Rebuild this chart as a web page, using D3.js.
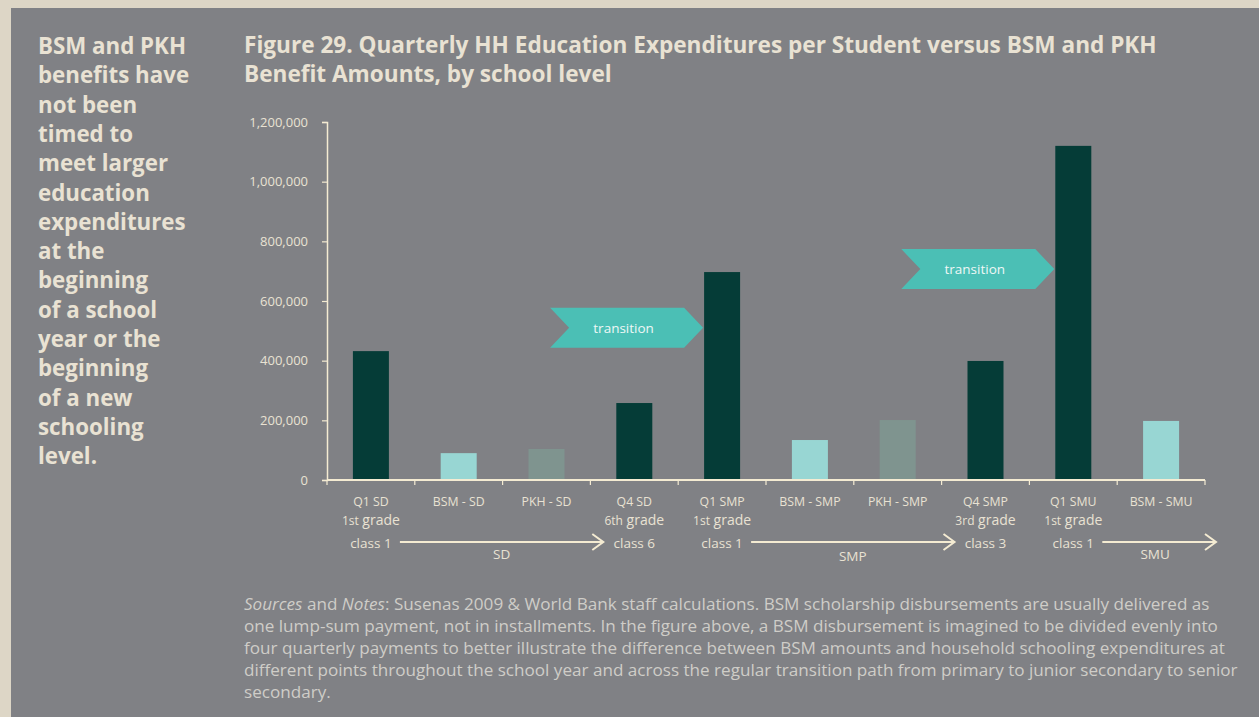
<!DOCTYPE html>
<html>
<head>
<meta charset="utf-8">
<script src="https://cdn.jsdelivr.net/npm/d3@7"></script>
<style>
  html, body { margin: 0; padding: 0; background: #ddd6c6; }
  svg { display: block; font-family: "Open Sans", "Noto Sans", sans-serif; }
</style>
</head>
<body>
<svg width="1259" height="717"></svg>
<script>
// chart data
const categories = ["Q1 SD", "BSM - SD", "PKH - SD", "Q4 SD", "Q1 SMP", "BSM - SMP", "PKH - SMP", "Q4 SMP", "Q1 SMU", "BSM - SMU"];
const values = [432000, 90000, 104000, 258000, 697000, 134000, 201000, 399000, 1120000, 198000];
const kinds = ["hh", "bsm", "pkh", "hh", "hh", "bsm", "pkh", "hh", "hh", "bsm"];
const grades = [["1st", "grade"], null, null, ["6th", "grade"], ["1st", "grade"], null, null, ["3rd", "grade"], ["1st", "grade"], null];
const classes = ["class 1", "", "", "class 6", "class 1", "", "", "class 3", "class 1", ""];
const yTicks = [0, 200000, 400000, 600000, 800000, 1000000, 1200000];
const levels = [
    { name: "SD", from: 0, to: 3 },
    { name: "SMP", from: 4, to: 7 },
    { name: "SMU", from: 8, to: null }
];
const transitions = [
    { at: "Q1 SMP", level: 510000 },
    { at: "Q1 SMU", level: 707000 }
];

const sidebar = ["BSM and PKH", "benefits have", "not been", "timed to", "meet larger",
    "education", "expenditures", "at the", "beginning", "of a school", "year or the",
    "beginning", "of a new", "schooling", "level."];
const title = ["Figure 29. Quarterly HH Education Expenditures per Student versus BSM and PKH",
    "Benefit Amounts, by school level"];
const notes = [
    [["Sources", true], [" and ", false], ["Notes", true], [": Susenas 2009 & World Bank staff calculations. BSM scholarship disbursements are usually delivered as", false]],
    [["one lump-sum payment, not in installments. In the figure above, a BSM disbursement is imagined to be divided evenly into", false]],
    [["four quarterly payments to better illustrate the difference between BSM amounts and household schooling expenditures at", false]],
    [["different points throughout the school year and across the regular transition path from primary to junior secondary to senior", false]],
    [["secondary.", false]]
];

const colors = { hh: "#053c37", bsm: "#98d6d3", pkh: "#7f948f" };
const cream = "#e9e2d3";
const axisCol = "#f4ebd2";

const svg = d3.select("svg");

// panel
svg.append("rect")
    .attr("x", 11).attr("y", 8)
    .attr("width", 1259 - 11).attr("height", 717 - 8)
    .attr("fill", "#808185");

// sidebar text
svg.append("g")
    .selectAll("text")
    .data(sidebar)
    .enter().append("text")
    .attr("x", 38)
    .attr("y", (d, i) => 54 + i * 29.3)
    .attr("fill", cream)
    .attr("font-size", 22.3)
    .attr("font-weight", 700)
    .text(d => d);

// title
svg.append("g")
    .selectAll("text")
    .data(title)
    .enter().append("text")
    .attr("x", 244)
    .attr("y", (d, i) => 53 + i * 29)
    .attr("fill", cream)
    .attr("font-size", 22.6)
    .attr("font-weight", 700)
    .text(d => d);

// scales
const x = d3.scaleBand()
    .domain(categories)
    .range([327, 1205])
    .paddingInner(0.59)
    .paddingOuter(0.295);

const y = d3.scaleLinear()
    .domain([0, 1200000])
    .range([480, 122]);

const center = i => x(categories[i]) + x.bandwidth() / 2;

// bars
svg.append("g")
    .selectAll("rect")
    .data(categories)
    .enter().append("rect")
    .attr("x", d => x(d))
    .attr("y", (d, i) => y(values[i]))
    .attr("width", x.bandwidth())
    .attr("height", (d, i) => y(0) - y(values[i]))
    .attr("fill", (d, i) => colors[kinds[i]]);

// y axis
const yAxis = svg.append("g")
    .attr("transform", "translate(327,0)")
    .call(d3.axisLeft(y).tickValues(yTicks).tickFormat(d3.format(",")).tickSize(5).tickPadding(14));
yAxis.select(".domain").attr("stroke", axisCol).attr("stroke-width", 1.5);
yAxis.selectAll(".tick line").attr("stroke", axisCol).attr("stroke-width", 1.2);
yAxis.selectAll(".tick text")
    .attr("fill", cream)
    .attr("font-size", 13)
    .attr("font-family", "Open Sans, sans-serif");

// x axis: ticks at band edges
const step = x.step();
const edges = d3.range(categories.length + 1).map(i => 327 + i * step);
const xg = svg.append("g");
xg.append("line")
    .attr("x1", 327).attr("x2", 1205)
    .attr("y1", y(0)).attr("y2", y(0))
    .attr("stroke", axisCol).attr("stroke-width", 1.8);
xg.selectAll("line.tk")
    .data(edges)
    .enter().append("line")
    .attr("class", "tk")
    .attr("x1", d => d).attr("x2", d => d)
    .attr("y1", y(0)).attr("y2", y(0) + 5)
    .attr("stroke", axisCol).attr("stroke-width", 1.2);

// category labels
const lab = svg.append("g")
    .attr("fill", cream)
    .attr("text-anchor", "middle");

lab.selectAll("text.cat")
    .data(categories)
    .enter().append("text")
    .attr("class", "cat")
    .attr("x", (d, i) => center(i))
    .attr("y", 506)
    .attr("font-size", 12.3)
    .text(d => d);

const gradeText = lab.selectAll("text.grade")
    .data(grades.map((g, i) => ({ g, i })).filter(d => d.g))
    .enter().append("text")
    .attr("class", "grade")
    .attr("x", d => center(d.i))
    .attr("y", 525);
gradeText.append("tspan").attr("font-size", 12).text(d => d.g[0]);
gradeText.append("tspan").attr("font-size", 14).text(d => " " + d.g[1]);

lab.selectAll("text.cls")
    .data(classes.map((c, i) => ({ c, i })).filter(d => d.c))
    .enter().append("text")
    .attr("class", "cls")
    .attr("x", d => center(d.i))
    .attr("y", 548)
    .attr("font-size", 13.5)
    .text(d => d.c);

// school level arrows
const arrows = svg.append("g");
levels.forEach(lv => {
    const x1 = center(lv.from) + 29;
    const x2 = lv.to === null ? 1216 : center(lv.to) - 31;
    const ay = 542;
    arrows.append("line")
        .attr("x1", x1).attr("x2", x2)
        .attr("y1", ay).attr("y2", ay)
        .attr("stroke", axisCol).attr("stroke-width", 2);
    arrows.append("path")
        .attr("d", `M${x2 - 11},${ay - 8}L${x2},${ay}L${x2 - 11},${ay + 8}`)
        .attr("fill", "none")
        .attr("stroke", axisCol).attr("stroke-width", 2);
    arrows.append("text")
        .attr("x", (x1 + x2) / 2 + (lv.to === null ? -4 : 0))
        .attr("y", lv.name === "SMP" ? 561 : 559)
        .attr("text-anchor", "middle")
        .attr("fill", cream)
        .attr("font-size", 13.5)
        .text(lv.name);
});

// transition chevrons
const tr = svg.append("g");
transitions.forEach(t => {
    const tip = x(t.at) - 1;
    const cy = y(t.level);
    const w = 153, h = 40, n = 19;
    const l = tip - w;
    tr.append("path")
        .attr("d", `M${l},${cy - h / 2}L${tip - n},${cy - h / 2}L${tip},${cy}L${tip - n},${cy + h / 2}L${l},${cy + h / 2}L${l + n},${cy}Z`)
        .attr("fill", "#4bbfb5");
    tr.append("text")
        .attr("x", l + w / 2 - 3)
        .attr("y", cy + 5)
        .attr("text-anchor", "middle")
        .attr("fill", "#eef7f5")
        .attr("font-size", 13.5)
        .text("transition");
});

// notes
const nt = svg.append("g")
    .attr("fill", "#cfcdc8")
    .attr("font-size", 17.1);
notes.forEach((line, i) => {
    const t = nt.append("text")
        .attr("x", 244)
        .attr("y", 610 + i * 22);
    line.forEach(([s, it]) => {
        t.append("tspan")
            .attr("font-style", it ? "italic" : "normal")
            .text(s);
    });
});
</script>
</body>
</html>
